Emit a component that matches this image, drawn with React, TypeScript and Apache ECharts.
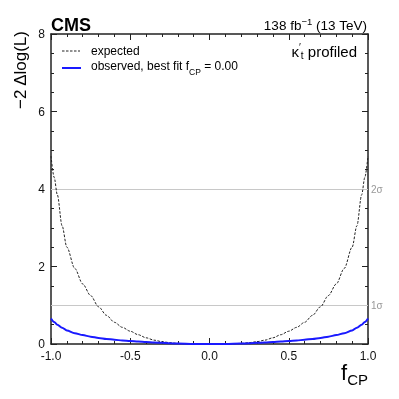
import React, { useEffect, useRef } from "react";
import * as echarts from "echarts";

const fcpValues = [
  -1.0, -0.98, -0.96, -0.93, -0.9, -0.85, -0.8, -0.75, -0.7, -0.65, -0.6, -0.55, -0.5, -0.45, -0.4, -0.35, -0.3,
  -0.25, -0.2, -0.1, 0.0, 0.1, 0.2, 0.25, 0.3, 0.35, 0.4, 0.45, 0.5, 0.55, 0.6, 0.65, 0.7, 0.75, 0.8, 0.85, 0.9,
  0.93, 0.96, 0.98, 1.0,
];
const expectedValues = [
  4.85, 4.3, 3.85, 3.05, 2.5, 1.95, 1.55, 1.25, 0.96, 0.74, 0.56, 0.43, 0.33, 0.24, 0.16, 0.1, 0.06, 0.035, 0.015,
  0.002, 0.0, 0.002, 0.015, 0.035, 0.06, 0.1, 0.16, 0.24, 0.33, 0.43, 0.56, 0.74, 0.96, 1.25, 1.55, 1.95, 2.5, 3.05,
  3.85, 4.3, 4.85,
];
const observedValues = [
  0.66, 0.57, 0.5, 0.42, 0.35, 0.28, 0.23, 0.19, 0.155, 0.13, 0.11, 0.09, 0.075, 0.063, 0.052, 0.04, 0.03, 0.02,
  0.012, 0.003, 0.0, 0.003, 0.012, 0.02, 0.03, 0.04, 0.052, 0.063, 0.075, 0.09, 0.11, 0.13, 0.155, 0.19, 0.23, 0.28,
  0.35, 0.42, 0.5, 0.57, 0.66,
];
const sigmaLevels = [1, 4];
const sigmaLabels = ["1σ", "2σ"];
const xTickLabels = ["-1.0", "-0.5", "0.0", "0.5", "1.0"];

const FONT = "'Liberation Sans', Arial, Helvetica, sans-serif";
const NB = "\u00a0";

export default function App() {
  const ref = useRef<HTMLDivElement>(null);
  useEffect(() => {
    if (!ref.current) return;
    const chart = echarts.init(ref.current, undefined, { renderer: "svg" });
    const axisLine = { show: true, onZero: false, lineStyle: { color: "#222", width: 1.5 } };
    const baseX = {
      type: "value",
      min: -1,
      max: 1,
      interval: 0.5,
      axisLine,
      axisTick: { show: true, inside: true, length: 6, lineStyle: { color: "#222" } },
      minorTick: { show: true, splitNumber: 5, length: 3, lineStyle: { color: "#222" } },
      splitLine: { show: false },
      minorSplitLine: { show: false },
    };
    const baseY = {
      type: "value",
      min: 0,
      max: 8,
      interval: 2,
      axisLine,
      axisTick: { show: true, inside: true, length: 6, lineStyle: { color: "#222" } },
      minorTick: { show: true, splitNumber: 4, length: 3, lineStyle: { color: "#222" } },
      splitLine: { show: false },
      minorSplitLine: { show: false },
    };
    const option: any = {
      animation: false,
      textStyle: { fontFamily: FONT },
      grid: { left: 51, right: 31, top: 34, bottom: 55 },
      xAxis: [
        {
          ...baseX,
          position: "bottom",
          axisLabel: {
            color: "#111",
            fontSize: 12,
            fontFamily: FONT,
            margin: 6,
            formatter: (v: number) => xTickLabels[Math.round((v + 1) / 0.5)] ?? "",
          },
        },
        { ...baseX, position: "top", axisLabel: { show: false } },
      ],
      yAxis: [
        {
          ...baseY,
          position: "left",
          axisLabel: { color: "#111", fontSize: 12, fontFamily: FONT, margin: 6 },
        },
        { ...baseY, position: "right", axisLabel: { show: false } },
      ],
      series: [
        {
          name: "expected",
          type: "line",
          data: fcpValues.map((x, i) => [x, expectedValues[i]]),
          showSymbol: false,
          smooth: 0.3,
          smoothMonotone: "x",
          lineStyle: { color: "#222", width: 1, type: [2.5, 1.5] },
          z: 3,
          markLine: {
            silent: true,
            symbol: "none",
            lineStyle: { color: "#c8c8c8", width: 1, type: "solid" },
            label: {
              position: "end",
              color: "#999",
              fontSize: 10,
              fontFamily: FONT,
              distance: 3,
              formatter: (p: any) => sigmaLabels[sigmaLevels.indexOf(p.value)] ?? "",
            },
            data: sigmaLevels.map((v) => ({ yAxis: v })),
            z: 1,
          },
        },
        {
          name: "observed",
          type: "line",
          data: fcpValues.map((x, i) => [x, observedValues[i]]),
          showSymbol: false,
          smooth: 0.3,
          smoothMonotone: "x",
          lineStyle: { color: "#1a1aff", width: 2 },
          z: 4,
        },
      ],
      graphic: [
        {
          type: "text",
          left: 51,
          top: 16,
          style: { text: "CMS", font: `bold 18px ${FONT}`, fill: "#000" },
        },
        {
          type: "text",
          x: 367,
          y: 24,
          style: {
            text: `{n|138${NB}fb}{s|−1}{n|${NB}(13${NB}TeV)}`,
            align: "right",
            verticalAlign: "middle",
            rich: {
              n: { fontSize: 13.5, fontFamily: FONT, fill: "#000", lineHeight: 16, verticalAlign: "bottom" },
              s: { fontSize: 9.5, fontFamily: FONT, fill: "#000", lineHeight: 16, verticalAlign: "top" },
            },
          },
        },
        {
          type: "text",
          x: 20,
          y: 31,
          rotation: Math.PI / 2,
          style: {
            text: "−2 Δlog(L)",
            font: `17px ${FONT}`,
            fill: "#000",
            align: "right",
            verticalAlign: "middle",
          },
        },
        {
          type: "text",
          x: 368,
          y: 374,
          style: {
            text: "{f|f}{s|CP}",
            align: "right",
            verticalAlign: "middle",
            rich: {
              f: { fontSize: 22, fontFamily: FONT, fill: "#000", lineHeight: 26, verticalAlign: "top" },
              s: { fontSize: 15, fontFamily: FONT, fill: "#000", lineHeight: 26, verticalAlign: "bottom" },
            },
          },
        },
        {
          type: "line",
          shape: { x1: 62, y1: 51, x2: 80, y2: 51 },
          style: { stroke: "#222", lineWidth: 1, lineDash: [2.5, 1.5] },
        },
        {
          type: "text",
          x: 91,
          y: 51,
          style: { text: "expected", font: `12px ${FONT}`, fill: "#000", verticalAlign: "middle" },
        },
        {
          type: "line",
          shape: { x1: 62, y1: 68, x2: 81, y2: 68 },
          style: { stroke: "#1a1aff", lineWidth: 2 },
        },
        {
          type: "text",
          x: 91,
          y: 68,
          style: {
            text: `{n|observed,${NB}best${NB}fit${NB}f}{s|CP}{n|${NB}=${NB}0.00}`,
            verticalAlign: "middle",
            rich: {
              n: { fontSize: 12, fontFamily: FONT, fill: "#000", lineHeight: 16, verticalAlign: "top" },
              s: { fontSize: 8.5, fontFamily: FONT, fill: "#000", lineHeight: 16, verticalAlign: "bottom" },
            },
          },
        },
        {
          type: "text",
          x: 357,
          y: 51,
          style: {
            text: `{n|κ}{p|′}{s|t}{n|${NB}profiled}`,
            align: "right",
            verticalAlign: "middle",
            rich: {
              n: { fontSize: 15, fontFamily: FONT, fill: "#000", lineHeight: 18, verticalAlign: "middle" },
              p: { fontSize: 10, fontFamily: FONT, fill: "#000", lineHeight: 18, verticalAlign: "top" },
              s: { fontSize: 10, fontFamily: FONT, fill: "#000", lineHeight: 18, verticalAlign: "bottom" },
            },
          },
        },
      ],
    };
    chart.setOption(option);
    return () => chart.dispose();
  }, []);
  return <div ref={ref} style={{ position: "fixed", left: 0, top: 0, width: 399, height: 399 }} />;
}
